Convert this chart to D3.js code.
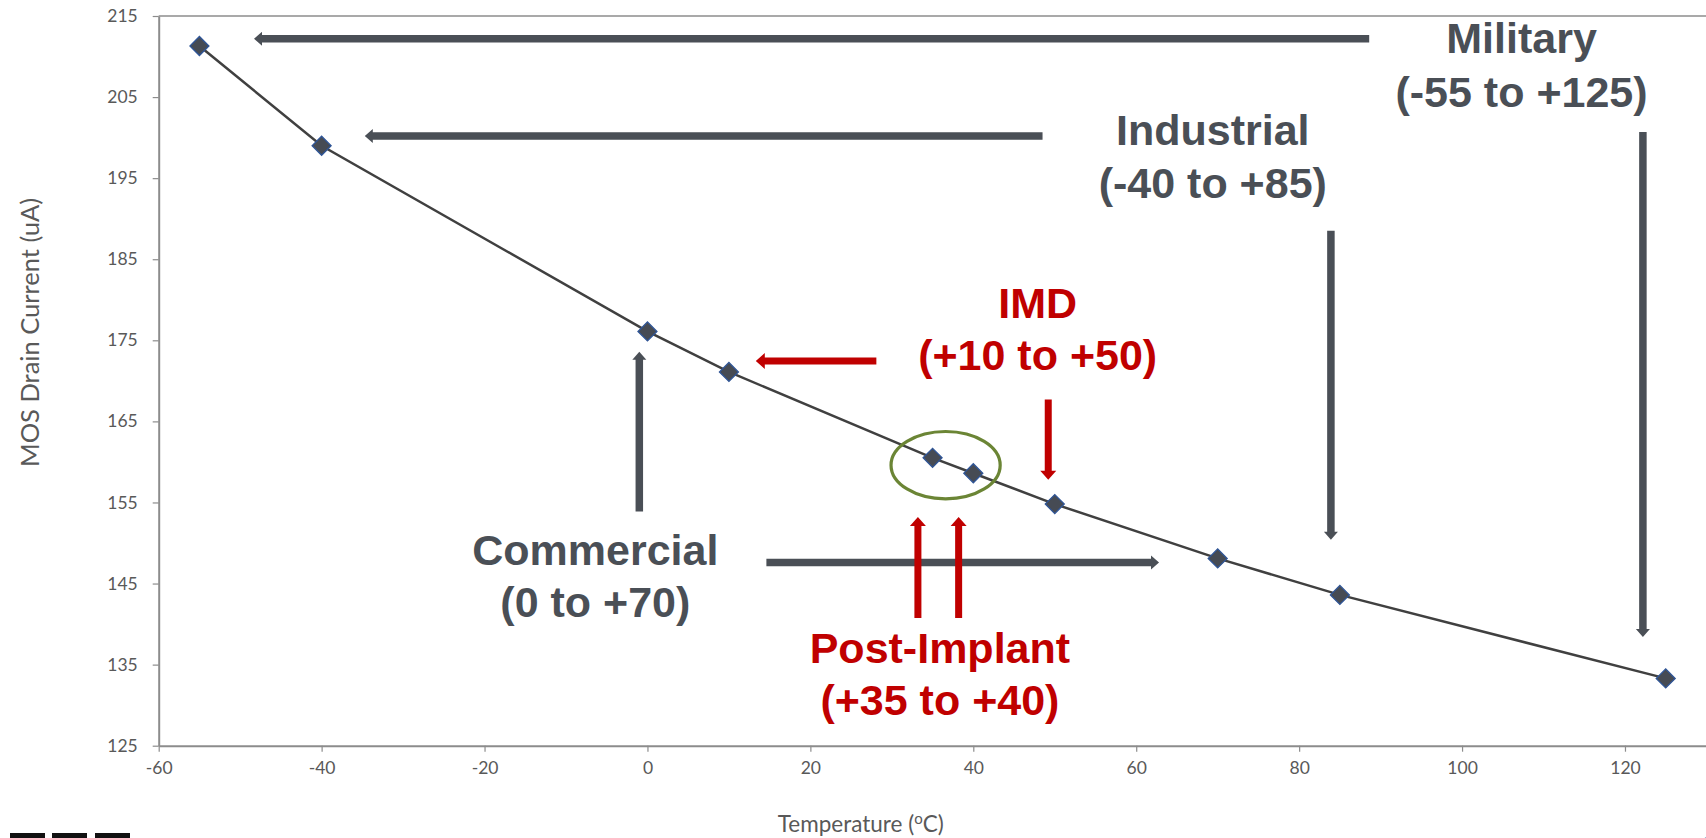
<!DOCTYPE html>
<html>
<head>
<meta charset="utf-8">
<script src="https://cdn.jsdelivr.net/npm/d3@7"></script>
<style>
  html, body { margin: 0; padding: 0; background: #fff; overflow: hidden; }
  svg { display: block; }
</style>
</head>
<body>
<svg id="chart" width="1706" height="838"></svg>
<script>
// ---- Data ----
const temperatures = [-55, -40, 0, 10, 35, 40, 50, 70, 85, 125];
const drainCurrent = [211.3, 199.0, 176.1, 171.1, 160.5, 158.6, 154.8, 148.1, 143.6, 133.3];

const xTicks = [-60, -40, -20, 0, 20, 40, 60, 80, 100, 120];
const yTicks = [125, 135, 145, 155, 165, 175, 185, 195, 205, 215];

const xTitle = "Temperature (";
const yTitle = "MOS Drain Current (uA)";

// annotation labels
const labelText1 = ["Military", "Industrial", "Commercial", "IMD", "Post-Implant"];
const labelText2 = ["(-55 to +125)", "(-40 to +85)", "(0 to +70)", "(+10 to +50)", "(+35 to +40)"];
const labelTemp = [107.3, 69.4, -6.4, 47.9, 35.9];
const labelCur1 = [210.4, 199.1, 147.3, 177.7, 135.2];
const labelCur2 = [203.8, 192.55, 140.9, 171.3, 128.8];
const labelKind = ["gray", "gray", "gray", "red", "red"];

// arrows in data space: start (temp, current) -> tip (temp, current)
const arrowFromT = [88.6, 122.2, 48.5, 83.9, -1.0, 14.6, 28.1, 49.2, 33.2, 38.2];
const arrowFromC = [212.2, 200.7, 200.2, 188.5, 153.9, 147.6, 172.45, 167.7, 140.75, 140.75];
const arrowToT   = [-48.3, 122.2, -34.7, 83.9, -1.0, 62.8, 13.3, 49.2, 33.2, 38.2];
const arrowToC   = [212.2, 138.4, 200.2, 150.4, 173.6, 147.6, 172.45, 157.8, 153.2, 153.2];
const arrowKind  = ["gray", "gray", "gray", "gray", "gray", "gray", "red", "red", "red", "red"];

// highlight ellipse (data space)
const ellipseCenter = [36.6, 159.6];
const ellipseRadii = [6.7, 4.15];

(function () {
  const svg = d3.select("#chart");
  const pLeft = 158.7, pTop = 16, pBottom = 745.7;
  const x = d3.scaleLinear().domain([-60, 140]).range([pLeft, pLeft + 200 * 8.146]);
  const y = d3.scaleLinear().domain([125, 215]).range([pBottom, pTop]);

  const colors = { gray: "#4a4f56", red: "#c00000" };
  const axisColor = "#8c8c8c";
  const textColor = "#595959";
  const tickFont = "Lato, 'Open Sans', sans-serif";
  const fmt = d => String(d);

  // plot frame top
  svg.append("line")
    .attr("x1", pLeft).attr("x2", 1706)
    .attr("y1", pTop).attr("y2", pTop)
    .attr("stroke", axisColor).attr("stroke-width", 1.5);

  // axes
  const gy = svg.append("g").attr("transform", `translate(${pLeft},0)`)
    .call(d3.axisLeft(y).tickValues(yTicks).tickFormat(fmt).tickSize(6).tickPadding(15).tickSizeOuter(0));
  const gx = svg.append("g").attr("transform", `translate(0,${pBottom})`)
    .call(d3.axisBottom(x).tickValues(xTicks).tickFormat(fmt).tickSize(6).tickPadding(10).tickSizeOuter(0));

  [gx, gy].forEach(g => {
    g.select(".domain").attr("stroke", axisColor).attr("stroke-width", 2);
    g.selectAll(".tick line").attr("stroke", axisColor).attr("stroke-width", 1.2);
    g.selectAll(".tick text").attr("fill", textColor)
      .style("font-family", tickFont).style("font-size", "17.5px");
  });

  // axis titles
  const xt = svg.append("text")
    .attr("x", 860.8).attr("y", 831.5)
    .attr("text-anchor", "middle")
    .attr("fill", textColor)
    .style("font-family", tickFont).style("font-size", "22.5px");
  xt.append("tspan").text(xTitle);
  xt.append("tspan").attr("dy", -8).style("font-size", "15px").text("o");
  xt.append("tspan").attr("dy", 8).text("C)");

  svg.append("text")
    .attr("transform", `translate(38.5,332.5) rotate(-90)`)
    .attr("text-anchor", "middle")
    .attr("fill", textColor)
    .style("font-family", tickFont).style("font-size", "25.5px")
    .text(yTitle);

  // series line
  const pts = temperatures.map((t, i) => [t, drainCurrent[i]]);
  svg.append("path")
    .datum(pts)
    .attr("d", d3.line().x(d => x(d[0])).y(d => y(d[1])))
    .attr("fill", "none")
    .attr("stroke", "#404040")
    .attr("stroke-width", 2.5);

  // markers (diamonds)
  svg.append("g").selectAll("path")
    .data(pts).join("path")
    .attr("transform", d => `translate(${x(d[0])},${y(d[1])}) rotate(45)`)
    .attr("d", d3.symbol().type(d3.symbolSquare).size(180))
    .attr("fill", "#464b54")
    .attr("stroke", "#2f5597")
    .attr("stroke-width", 1.3);

  // highlight ellipse
  svg.append("ellipse")
    .attr("cx", x(ellipseCenter[0])).attr("cy", y(ellipseCenter[1]))
    .attr("rx", x(ellipseCenter[0] + ellipseRadii[0]) - x(ellipseCenter[0]))
    .attr("ry", y(ellipseCenter[1]) - y(ellipseCenter[1] + ellipseRadii[1]))
    .attr("fill", "none")
    .attr("stroke", "#6b8535")
    .attr("stroke-width", 3.2);

  // arrows
  function arrowPath(len, w, hw, hl) {
    return `M0,${-w/2} L${len-hl},${-w/2} L${len-hl},${-hw/2} L${len},0 L${len-hl},${hw/2} L${len-hl},${w/2} L0,${w/2} Z`;
  }
  const ag = svg.append("g");
  arrowFromT.forEach((t, i) => {
    const x1 = x(t), y1 = y(arrowFromC[i]);
    const x2 = x(arrowToT[i]), y2 = y(arrowToC[i]);
    const len = Math.hypot(x2 - x1, y2 - y1);
    const ang = Math.atan2(y2 - y1, x2 - x1) * 180 / Math.PI;
    const red = arrowKind[i] === "red";
    ag.append("path")
      .attr("transform", `translate(${x1},${y1}) rotate(${ang})`)
      .attr("d", arrowPath(len, red ? 7 : 7.5, red ? 16 : 14, red ? 9 : 8))
      .attr("fill", colors[arrowKind[i]]);
  });

  // annotation labels
  const lg = svg.append("g")
    .style("font-family", "'Liberation Sans', Arial, sans-serif")
    .style("font-weight", "bold")
    .style("font-size", "43px")
    .attr("text-anchor", "middle");
  labelText1.forEach((s, i) => {
    const c = colors[labelKind[i]];
    lg.append("text").attr("x", x(labelTemp[i])).attr("y", y(labelCur1[i])).attr("fill", c).text(s);
    lg.append("text").attr("x", x(labelTemp[i])).attr("y", y(labelCur2[i])).attr("fill", c).text(labelText2[i]);
  });

  // slide decorations cut off at the edges
  const deco = svg.append("g");
  [[10, 35], [52, 35], [95, 35]].forEach(d => {
    deco.append("rect").attr("x", d[0]).attr("y", 833).attr("width", d[1]).attr("height", 6).attr("fill", "#111");
  });
  deco.append("circle").attr("cx", 1718).attr("cy", 862).attr("r", 26)
    .attr("fill", "none").attr("stroke", "#3b6aa8").attr("stroke-width", 3);
})();
</script>
</body>
</html>
